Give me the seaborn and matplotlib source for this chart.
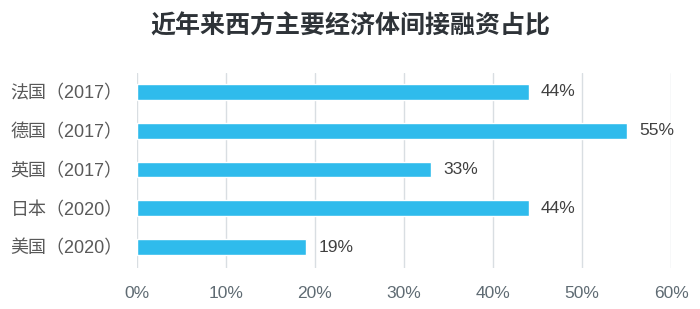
import matplotlib
matplotlib.use("Agg")
import matplotlib.pyplot as plt
import seaborn as sns
import pandas as pd
from matplotlib.ticker import FuncFormatter

categories = ["法国（2017）", "德国（2017）", "英国（2017）", "日本（2020）", "美国（2020）"]
values = [44, 55, 33, 44, 19]
xticks = [0, 10, 20, 30, 40, 50, 60]
title = "近年来西方主要经济体间接融资占比"

sns.set_theme(style="white")
plt.rcParams['font.family'] = ['Liberation Sans', 'Noto Sans CJK SC', 'DejaVu Sans']

df = pd.DataFrame({"cat": categories, "val": values})

fig = plt.figure(figsize=(7, 3.09), dpi=100)
ax = fig.add_axes([0.1957, 0.1327, 0.7629, 0.6311])
sns.barplot(data=df, x="val", y="cat", color="#2FBBEC", saturation=1, width=0.41, ax=ax, orient="h")

ax.set_xlim(0, 60)
ax.set_ylim(4.54, -0.49)
ax.set_xticks(xticks)
ax.xaxis.set_major_formatter(FuncFormatter(lambda v, p: f"{int(v)}%"))
ax.grid(axis="x", color="#D9DEE2", linewidth=1)
ax.set_axisbelow(True)
for s in ax.spines.values():
    s.set_visible(False)
ax.set_xlabel("")
ax.set_ylabel("")
ax.tick_params(axis="x", length=0, pad=13, labelsize=12.5, labelcolor="#5F6B73")
ax.tick_params(axis="y", length=0, pad=20, labelsize=13, labelcolor="#595959")
for lbl in ax.get_yticklabels():
    lbl.set_horizontalalignment("left")
    lbl.set_x(-0.185)

for c in ax.containers:
    ax.bar_label(c, labels=[f"{v}%" for v in values], padding=9, fontsize=12.5, color="#404040")

fig.text(0.5, 0.915, title, ha="center", va="center", fontsize=18, fontweight="bold",
         color="#2E3338", family=['Noto Sans CJK SC', 'DejaVu Sans'])

fig.savefig("out.png", dpi=100)
